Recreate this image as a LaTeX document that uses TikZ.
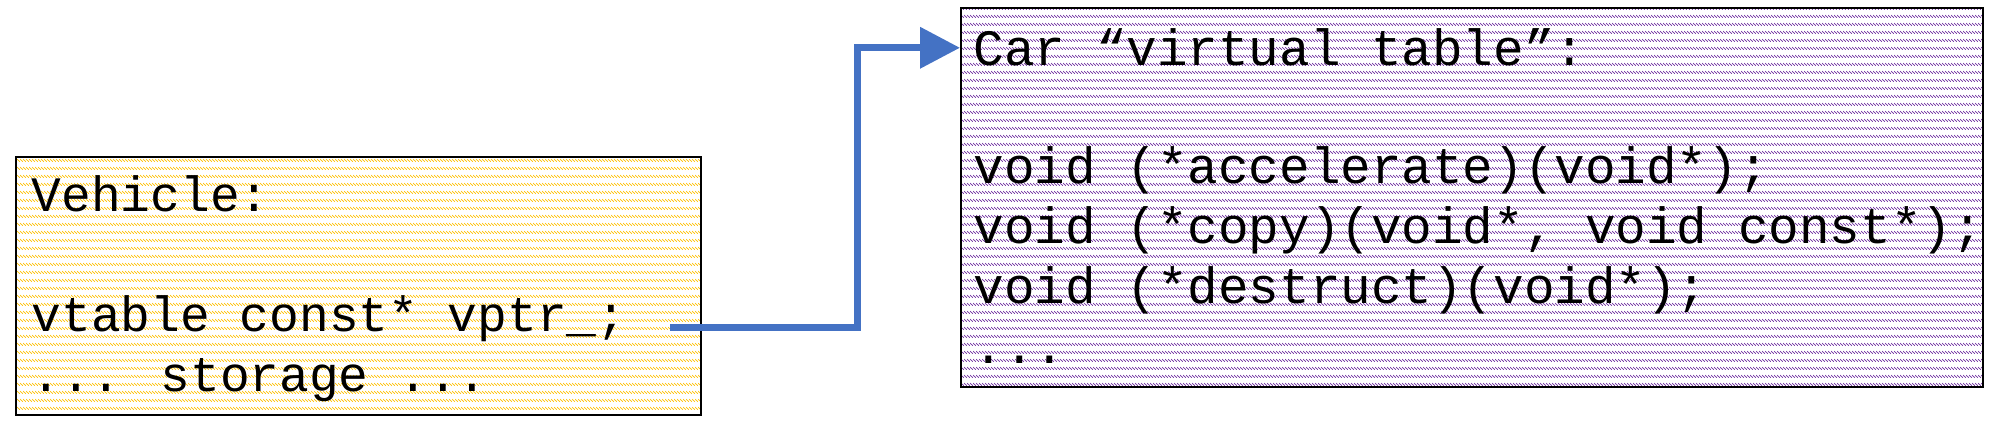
\documentclass[tikz,border=0pt]{standalone}
\usepackage{fontspec}
\newfontfamily\codefont{Liberation Mono}
\usetikzlibrary{arrows.meta,patterns.meta}
\definecolor{vehgold}{RGB}{255,192,0}
\definecolor{tblpurple}{RGB}{112,48,160}
\definecolor{ptrblue}{RGB}{68,114,196}
\pgfdeclarepattern{
	name = rowhatch, type = uncolored,
	bottom left = {\pgfpointorigin}, top right = {\pgfpoint{0.85pt}{2.28pt}},
	tile size = {\pgfpoint{0.85pt}{2.28pt}},
	code = {
		\pgfsetlinewidth{0.22pt}
		\pgfpathmoveto{\pgfpoint{0pt}{0.9pt}}
		\pgfpathlineto{\pgfpoint{0.85pt}{0.1pt}}
		\pgfusepath{stroke}
	}
}
\begin{document}
\begin{tikzpicture} [box/.style = {draw, line width = 0.6pt, anchor = north west, inner sep = 0pt, pattern = rowhatch},
	code/.style = {anchor = base west, inner sep = 0pt},
	ptrarrow/.style = {ptrblue, line width = 0.07cm, -{Triangle[length = 0.4cm, width = 0.4cm]}}]
	\useasboundingbox (0,0) rectangle (19.94,4.34);
	\node [box, pattern color = vehgold, minimum width = 6.85cm, minimum height = 2.58cm] (vehicle) at (0.15,2.78) {};
	\node [box, pattern color = tblpurple, minimum width = 10.22cm, minimum height = 3.79cm] (vtable) at (9.60,4.27) {};
	\begin{scope} [font = \codefont\fontsize{14.1pt}{17pt}\selectfont]
	\node [code] (vname) at (0.31,2.22) {Vehicle:};
	\node [code] (vptr) at (0.31,1.02) {vtable const* vptr\_;};
	\node [code] (vstore) at (0.31,0.42) {... storage ...};
	\end{scope}
	\begin{scope} [font = \codefont\fontsize{14.5pt}{17pt}\selectfont]
	\node [code] (tname) at (9.73,3.68) {Car “virtual table”:};
	\node [code] (tacc) at (9.73,2.50) {void (*accelerate)(void*);};
	\node [code] (tcopy) at (9.73,1.90) {void (*copy)(void*, void const*);};
	\node [code] (tdtor) at (9.73,1.30) {void (*destruct)(void*);};
	\node [code] (tmore) at (9.73,0.70) {...};
	\end{scope}
	\coordinate (ptr) at (6.70,1.06);
	\coordinate (bend) at (8.57,1.06);
	\draw [ptrarrow] (ptr) -- (bend) |- (tname.west -| vtable.west);
\end{tikzpicture}
\end{document}
